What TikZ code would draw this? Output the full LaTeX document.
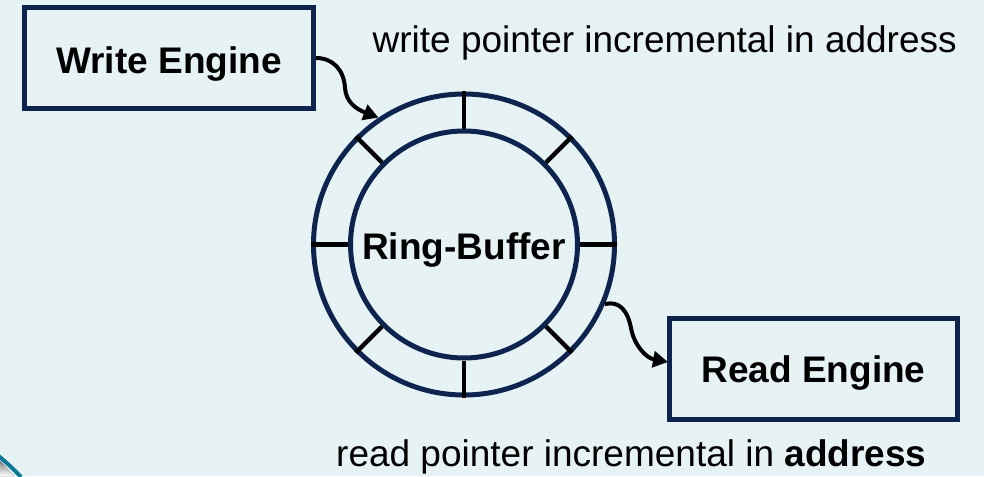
\documentclass[tikz,border=0pt]{standalone}
\usepackage{fontspec}
\setmainfont{Liberation Sans}
\usetikzlibrary{arrows.meta}
\definecolor{bg}{RGB}{231,242,245}
\definecolor{navy}{RGB}{12,36,78}
\definecolor{tealc}{RGB}{10,120,150}
\definecolor{shade}{RGB}{200,204,206}
\tikzset{
  enginebox/.style={draw=navy, line width=5pt, fill=bg, minimum width=289pt, minimum height=101pt, inner sep=0pt, font=\fontsize{37}{40}\selectfont\bfseries, text depth=0pt},
  ringline/.style={draw=navy, line width=5pt, circle, inner sep=0pt},
  spoke/.style={black, line width=4.5pt},
  ptr/.style={black, line width=4pt, -{Triangle[length=15pt,width=16pt]}},
  lbl/.style={inner sep=0pt, font=\fontsize{37}{40}\selectfont}
}
\begin{document}
\begin{tikzpicture}[x=1pt,y=-1pt]
\useasboundingbox (0,0) rectangle (984,476);
\clip (0,0) rectangle (984,476);
\fill[bg] (0,0) rectangle (984,476);
% corner decoration
\fill[shade] (0,461) .. controls (6,467) and (10,472) .. (14,476) -- (0,476) -- cycle;
\draw[tealc, line width=4pt] (-2,455.5) .. controls (7,463) and (14,469.5) .. (21,477);
% ring buffer
\node[ringline, minimum size=301pt] (ring) at (464,244.5) {};
\node[ringline, minimum size=227pt, font=\fontsize{37}{40}\selectfont\bfseries, text height=29pt, text depth=0pt] (ringin) at (464,244.5) {Ring-Buffer};
\foreach \a in {0,45,...,315}
  \draw[spoke] (ringin.\a) -- (ring.\a);
% engines
\node[enginebox, text height=31pt] (wbox) at (169,58) {Write Engine};
\node[enginebox, minimum width=288pt, minimum height=101.5pt, text height=27pt] (rbox) at (813.5,368.75) {Read Engine};
% labels
\node[lbl, anchor=base west] (wlbl) at (372.5,53) {write pointer incremental in address};
\node[lbl, anchor=base west] (rlbl) at (336,466) {read pointer incremental in \textbf{address}};
% pointers
\coordinate (rtip) at (668,362);
\draw[ptr] (wbox.east) .. controls (333,58) and (344,70) .. (345,88)
  .. controls (346,102) and (356,109) .. (ring.124);
\draw[ptr] (ring.-23) .. controls (620,300) and (628,312) .. (631,328)
  .. controls (634,345) and (646,358) .. (rtip);
\end{tikzpicture}
\end{document}
